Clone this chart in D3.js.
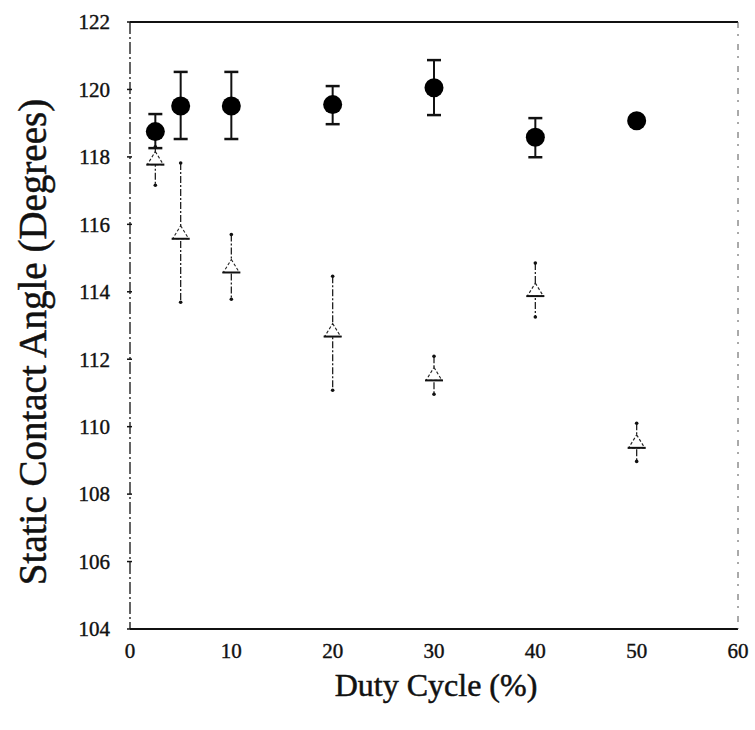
<!DOCTYPE html>
<html>
<head>
<meta charset="utf-8">
<script src="https://cdn.jsdelivr.net/npm/d3@7"></script>
<style>
  body { margin: 0; background: #fff; }
  text { font-family: "Liberation Serif", "Times New Roman", serif; fill: #111; }
</style>
</head>
<body>
<div id="vis"></div>
<script>
// data
var dutyCycle = [2.5, 5, 10, 20, 30, 40, 50];

// filled circles
var circleMean = [118.75, 119.51, 119.51, 119.55, 120.05, 118.58, 119.07];
var circleHi   = [119.27, 120.52, 120.52, 120.10, 120.87, 119.15, null];
var circleLo   = [118.26, 118.53, 118.53, 118.97, 119.24, 117.99, null];

// open triangles
var triMean = [117.95, 115.75, 114.75, 112.85, 111.55, 114.05, 109.55];
var triHi   = [118.30, 117.82, 115.70, 114.46, 112.09, 114.85, 110.10];
var triLo   = [117.16, 113.69, 113.78, 111.08, 110.96, 113.25, 108.97];

var xTicks = [0, 10, 20, 30, 40, 50, 60];
var yTicks = [104, 106, 108, 110, 112, 114, 116, 118, 120, 122];

var width = 755, height = 730;
var margin = { top: 22, left: 130, bottom: 101, right: 17 };

var svg = d3.select('#vis').append('svg')
  .attr('width', width)
  .attr('height', height);

var x = d3.scaleLinear().domain([0, 60]).range([margin.left, width - margin.right]);
var y = d3.scaleLinear().domain([104, 122]).range([height - margin.bottom, margin.top]);

// frame: solid top/bottom, broken left/right like the scan
svg.append('line')
  .attr('x1', x(0)).attr('x2', x(60)).attr('y1', y(122)).attr('y2', y(122))
  .style('stroke', '#111').style('stroke-width', 2);
svg.append('line')
  .attr('x1', x(0)).attr('x2', x(60)).attr('y1', y(104)).attr('y2', y(104))
  .style('stroke', '#111').style('stroke-width', 2);
svg.append('line')
  .attr('x1', x(0)).attr('x2', x(0)).attr('y1', y(122)).attr('y2', y(104))
  .style('stroke', '#222').style('stroke-width', 1.4).style('stroke-dasharray', '12,3,2,3');
svg.append('line')
  .attr('x1', x(60)).attr('x2', x(60)).attr('y1', y(122)).attr('y2', y(104))
  .style('stroke', '#555').style('stroke-width', 1).style('stroke-dasharray', '6,6,2,8');

// y ticks + labels
svg.selectAll('.ytick').data(yTicks).enter().append('line')
  .attr('class', 'ytick')
  .attr('x1', x(0) - 3).attr('x2', x(0) + 2)
  .attr('y1', function(d) { return y(d); })
  .attr('y2', function(d) { return y(d); })
  .style('stroke', '#111').style('stroke-width', 1.5);

svg.selectAll('.ylab').data(yTicks).enter().append('text')
  .attr('class', 'ylab')
  .attr('x', 110)
  .attr('y', function(d) { return y(d); })
  .attr('dy', '0.35em')
  .attr('text-anchor', 'end')
  .style('font-size', '21px')
  .style('stroke', '#111').style('stroke-width', 0.4)
  .text(function(d) { return d; });

// x labels
svg.selectAll('.xlab').data(xTicks).enter().append('text')
  .attr('class', 'xlab')
  .attr('x', function(d) { return x(d); })
  .attr('y', 658)
  .attr('text-anchor', 'middle')
  .style('font-size', '21px')
  .style('stroke', '#111').style('stroke-width', 0.4)
  .text(function(d) { return d; });

// axis titles
svg.append('text')
  .attr('x', 436).attr('y', 696)
  .attr('text-anchor', 'middle')
  .style('font-size', '32px')
  .style('stroke', '#111').style('stroke-width', 0.5)
  .text('Duty Cycle (%)');

svg.append('text')
  .attr('transform', 'translate(46,342) rotate(-90)')
  .attr('text-anchor', 'middle')
  .style('font-size', '39px')
  .style('stroke', '#111').style('stroke-width', 0.5)
  .text('Static Contact Angle (Degrees)');

// triangle series error bars (thin, dashed)
var tri = dutyCycle.map(function(d, i) {
  return { x: d, m: triMean[i], hi: triHi[i], lo: triLo[i] };
});

svg.selectAll('.terr').data(tri).enter().append('line')
  .attr('class', 'terr')
  .attr('x1', function(d) { return x(d.x); })
  .attr('x2', function(d) { return x(d.x); })
  .attr('y1', function(d) { return y(d.hi); })
  .attr('y2', function(d) { return y(d.lo); })
  .style('stroke', '#222').style('stroke-width', 1.3).style('stroke-dasharray', '7,2,2,2');

svg.selectAll('.tcapHi').data(tri).enter().append('circle')
  .attr('cx', function(d) { return x(d.x); })
  .attr('cy', function(d) { return y(d.hi); })
  .attr('r', 1.8).style('fill', '#111');
svg.selectAll('.tcapLo').data(tri).enter().append('circle')
  .attr('cx', function(d) { return x(d.x); })
  .attr('cy', function(d) { return y(d.lo); })
  .attr('r', 1.8).style('fill', '#111');

// open triangle markers
svg.selectAll('.tri').data(tri).enter().append('path')
  .attr('class', 'tri')
  .attr('d', function(d) {
    var cx = x(d.x), cy = y(d.m);
    return 'M' + cx + ',' + (cy - 7) + 'L' + (cx + 8) + ',' + (cy + 6) + 'L' + (cx - 8) + ',' + (cy + 6) + 'Z';
  })
  .style('fill', '#fff')
  .style('stroke', '#222').style('stroke-width', 1.1).style('stroke-dasharray', '3,2');

// bar along the triangle base
svg.selectAll('.tbase').data(tri).enter().append('line')
  .attr('x1', function(d) { return x(d.x) - 9; })
  .attr('x2', function(d) { return x(d.x) + 9; })
  .attr('y1', function(d) { return y(d.m) + 6; })
  .attr('y2', function(d) { return y(d.m) + 6; })
  .style('stroke', '#111').style('stroke-width', 2);

// filled circle series
var circ = dutyCycle.map(function(d, i) {
  return { x: d, m: circleMean[i], hi: circleHi[i], lo: circleLo[i] };
});
var withErr = circ.filter(function(d) { return d.hi != null; });

svg.selectAll('.cerr').data(withErr).enter().append('line')
  .attr('class', 'cerr')
  .attr('x1', function(d) { return x(d.x); })
  .attr('x2', function(d) { return x(d.x); })
  .attr('y1', function(d) { return y(d.hi); })
  .attr('y2', function(d) { return y(d.lo); })
  .style('stroke', '#111').style('stroke-width', 2);

svg.selectAll('.ccapHi').data(withErr).enter().append('line')
  .attr('x1', function(d) { return x(d.x) - 7; })
  .attr('x2', function(d) { return x(d.x) + 7; })
  .attr('y1', function(d) { return y(d.hi); })
  .attr('y2', function(d) { return y(d.hi); })
  .style('stroke', '#111').style('stroke-width', 2.5);
svg.selectAll('.ccapLo').data(withErr).enter().append('line')
  .attr('x1', function(d) { return x(d.x) - 7; })
  .attr('x2', function(d) { return x(d.x) + 7; })
  .attr('y1', function(d) { return y(d.lo); })
  .attr('y2', function(d) { return y(d.lo); })
  .style('stroke', '#111').style('stroke-width', 2.5);

svg.selectAll('.dot').data(circ).enter().append('circle')
  .attr('class', 'dot')
  .attr('cx', function(d) { return x(d.x); })
  .attr('cy', function(d) { return y(d.m); })
  .attr('r', 9.5)
  .style('fill', '#000');
</script>
</body>
</html>
